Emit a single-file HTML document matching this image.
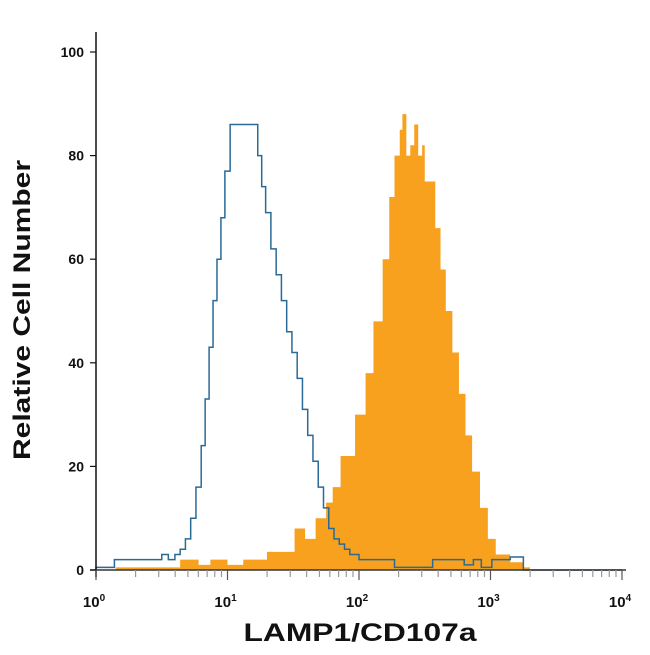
<!DOCTYPE html>
<html><head><meta charset="utf-8"><style>
body{margin:0;background:#fff}
svg text{font-family:"Liberation Sans",sans-serif;font-weight:bold;fill:#111}
</style></head><body>
<svg id="c" width="650" height="650">
<g id="marks"></g>
<g id="axes"></g>
<text x="30" y="310" font-size="24" text-anchor="middle" textLength="300" lengthAdjust="spacingAndGlyphs" transform="rotate(-90 30 310)">Relative Cell Number</text>
<text x="360" y="641" font-size="25" text-anchor="middle" textLength="233" lengthAdjust="spacingAndGlyphs">LAMP1/CD107a</text>
</svg>
<script>
const orangeEdges=[0.15,0.64,0.78,0.87,1.00,1.12,1.30,1.51,1.59,1.67,1.75,1.80,1.86,1.97,2.05,2.11,2.18,2.23,2.27,2.31,2.33,2.36,2.39,2.42,2.45,2.48,2.50,2.58,2.62,2.66,2.71,2.76,2.81,2.86,2.92,2.98,3.04,3.15,3.25,3.30];
const orangeValues=[0.5,2,1,2,1,2,3.5,8,6,10,13,16,22,30,38,48,60,72,80,85,88,80,82,86,80,82,75,66,58,50,42,34,26,19,12,6,3,1.5,0.5];
const blueEdges=[0.00,0.14,0.50,0.55,0.60,0.64,0.68,0.72,0.76,0.80,0.83,0.86,0.89,0.92,0.95,0.98,1.02,1.23,1.26,1.29,1.33,1.37,1.41,1.45,1.49,1.53,1.57,1.61,1.65,1.69,1.73,1.77,1.81,1.85,1.89,1.93,2.00,2.27,2.56,2.80,2.87,2.93,3.01,3.15,3.25,4.0];
const blueValues=[0.5,2,3,2,3,4,6,10,16,24,33,43,52,60,68,77,86,80,74,69,62,57,52,46,42,37,31,26,21,16,12,8,6,5,4,3,2,0.5,2,1,2,0.5,2,2.5,0];
const yTicks=[0,20,40,60,80,100];
const xDecades=[0,1,2,3,4];

const X0=96,XD=131.5,Y0=570,YS=5.18;
const xs=l=>X0+l*XD, ys=v=>Y0-v*YS;
const NS="http://www.w3.org/2000/svg";
const marks=document.getElementById('marks'),axes=document.getElementById('axes');
function stepPath(edges,vals,closed){
  let d='M'+xs(edges[0])+','+Y0;
  for(let i=0;i<vals.length;i++){d+=' L'+xs(edges[i])+','+ys(vals[i])+' L'+xs(edges[i+1])+','+ys(vals[i]);}
  d+=' L'+xs(edges[edges.length-1])+','+Y0;
  if(closed)d+=' Z';
  return d;
}
const po=document.createElementNS(NS,'path');
po.setAttribute('d',stepPath(orangeEdges,orangeValues,true));
po.setAttribute('fill','#f7a11f');


marks.appendChild(po);
const pb=document.createElementNS(NS,'path');
pb.setAttribute('d',stepPath(blueEdges,blueValues,false));
pb.setAttribute('fill','none');pb.setAttribute('stroke','#2a6a96');pb.setAttribute('stroke-width','1.5');


marks.appendChild(pb);
function line(x1,y1,x2,y2,c,w){const l=document.createElementNS(NS,'line');l.setAttribute('x1',x1);l.setAttribute('y1',y1);l.setAttribute('x2',x2);l.setAttribute('y2',y2);l.setAttribute('stroke',c);l.setAttribute('stroke-width',w);axes.appendChild(l);return l;}
const ya=line(96,32,96,577,'#111',1.5);


const xa=line(90,570,626,570,'#333',1.5);


yTicks.forEach(v=>{
  line(90,ys(v),96,ys(v),'#111',1.2);
  const t=document.createElementNS(NS,'text');
  t.setAttribute('x',84);t.setAttribute('y',ys(v)+5);t.setAttribute('font-size','14');t.setAttribute('text-anchor','end');
  t.textContent=v;
  
  
  axes.appendChild(t);
});
xDecades.forEach(d=>{
  line(xs(d),570,xs(d),580,'#555',1.2);
  if(d<4)for(let k=2;k<10;k++){const x=xs(d+Math.log10(k));line(x,570,x,577,'#999',1.2);}
  const t=document.createElementNS(NS,'text');
  t.setAttribute('x',xs(d)-2);t.setAttribute('y',607);t.setAttribute('font-size','15');t.setAttribute('text-anchor','middle');
  t.innerHTML='10<tspan font-size="10" dy="-6">'+d+'</tspan>';
  
  
  axes.appendChild(t);
});
</script>
</body></html>
